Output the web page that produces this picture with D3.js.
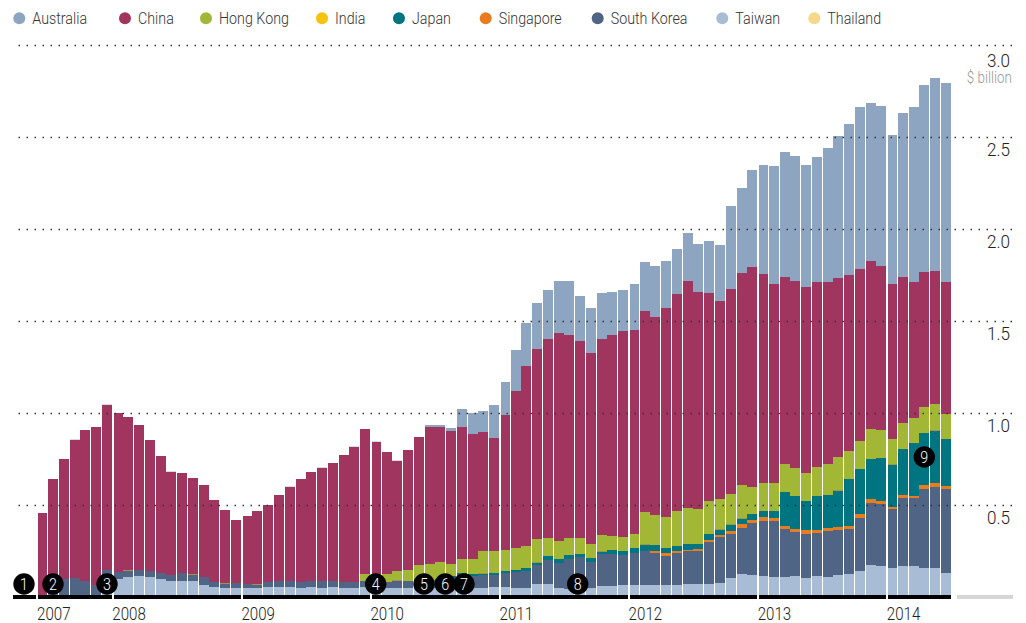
<!DOCTYPE html>
<html><head><meta charset="utf-8">
<script src="https://cdn.jsdelivr.net/npm/d3@7/dist/d3.min.js"></script>
<style>html,body{margin:0;padding:0;background:#fff}svg{display:block}
text{font-family:Roboto,"Liberation Sans",sans-serif;font-weight:300}</style>
</head><body><svg id="c" width="1026" height="623"></svg>
<script>
// Monthly values, $ billion, Jun 2007 – May 2014 (7 + 12*6 + 6 months)
const yearLabels = ["2007","2008","2009","2010","2011","2012","2013","2014"];
const yearStartIndex = [0,7,19,31,43,55,67,79];
const yTicks = [0.5,1.0,1.5,2.0,2.5,3.0];
const legendNames = ["Australia","China","Hong Kong","India","Japan","Singapore","South Korea","Taiwan","Thailand"];
const stackOrder = ["Thailand","Taiwan","South Korea","Singapore","Japan","India","Hong Kong","China","Australia"];
const annotationLabels = ["1","2","3","4","5","6","7","8","9"];

const thailand = [0,0,0,0,0,0,0,
 0,0,0,0,0,0,0,0,0,0,0,0,
 0,0,0,0,0,0,0,0,0,0,0,0,
 0,0,0,0,0,0,0,0,0,0,0,0,
 0,0,0,0,0,0,0,0,.008,.008,.008,0,
 0,0,0,0,0,0,0,0,0,0,0,0,
 0,0,0,0,0,0,0,0,0,0,0,0,
 0,0,0,0,0,0];
const taiwan = [0,0,0,0,0,0,.095,
 .101,.111,.117,.111,.101,.090,.090,.090,.068,.057,.052,.052,
 .052,.052,.057,.057,.057,.052,.057,.052,.057,.052,.052,.057,
 .057,.052,.052,.052,.052,.052,.052,.052,.052,.052,.052,.057,
 .057,.052,.052,.073,.073,.052,.046,.046,.044,.054,.054,.068,
 .068,.068,.068,.068,.068,.073,.073,.073,.079,.106,.128,.122,
 .117,.111,.111,.117,.106,.117,.111,.122,.128,.144,.177,.171,
 .160,.171,.171,.160,.160,.133];
const southKorea = [0,.041,.101,.106,.090,.068,.054,
 .038,.033,.033,.033,.033,.033,.043,.033,.043,.027,.022,.027,
 .022,.016,.027,.033,.033,.033,.033,.038,.033,.033,.033,.033,
 .033,.033,.038,.038,.038,.043,.049,.054,.071,.065,.071,.065,
 .076,.087,.092,.103,.130,.136,.163,.174,.141,.174,.174,.163,
 .174,.185,.174,.158,.174,.179,.179,.228,.250,.239,.250,.283,
 .299,.304,.261,.239,.239,.234,.250,.245,.245,.288,.337,.337,
 .321,.370,.370,.429,.440,.457];
const singapore = [0,0,0,0,0,0,0,
 0,0,0,0,0,0,0,0,0,0,0,0,
 0,0,0,0,0,0,0,0,0,0,0,0,
 0,0,0,0,0,0,0,0,0,0,0,0,
 0,0,0,0,0,0,0,0,0,0,0,0,
 0,0,.011,.016,.011,.005,.011,.011,.011,.016,.022,.016,
 .022,.016,.016,.016,.022,.016,.016,.016,.016,.022,.022,.016,
 .011,.016,.011,.022,.022,.016];
const japan = [0,0,0,0,0,0,0,
 0,0,0,0,0,0,0,0,0,0,0,0,
 0,0,0,0,0,0,0,0,0,0,0,0,
 0,0,0,0,0,0,0,.011,.011,.011,.005,.011,
 .011,.011,.016,.016,.022,.022,.022,.016,.022,.016,.022,.022,
 .027,.033,.033,.027,.027,.033,.027,.033,.027,.033,.027,.033,
 .033,.038,.185,.179,.158,.185,.179,.196,.255,.245,.217,.234,
 .228,.250,.288,.283,.288,.255];
const india = [0,0,0,0,0,0,0,
 0,.003,0,0,0,0,0,.003,0,0,.003,0,
 0,.003,0,0,0,0,0,0,0,0,0,0,
 0,0,.003,0,0,0,0,0,0,0,.003,0,
 0,0,0,.003,0,0,0,0,0,.003,0,0,
 0,.003,0,0,0,0,0,0,.003,.003,.003,0,
 0,0,0,0,0,0,0,.003,0,0,0,0,
 .003,0,0,0,.003,0];
const hongKong = [0,0,0,0,0,0,0,
 0,0,0,0,0,0,0,0,0,0,0,0,
 0,0,0,0,0,0,0,0,0,0,0,.038,
 .038,.043,.049,.060,.087,.087,.092,.065,.076,.082,.120,.120,
 .114,.120,.120,.125,.098,.098,.092,.087,.076,.087,.076,.076,
 .076,.174,.163,.168,.190,.196,.190,.179,.168,.168,.179,.147,
 .152,.152,.152,.152,.152,.158,.168,.179,.152,.152,.163,.152,
 .141,.141,.136,.141,.141,.136];
const china = [.459,.603,.652,.755,.821,.859,.902,
 .864,.832,.788,.712,.636,.560,.543,.522,.500,.446,.397,.342,
 .370,.397,.418,.467,.511,.560,.592,.614,.641,.690,.734,.788,
 .717,.663,.603,.652,.696,.745,.734,.723,.717,.679,.647,.614,
 .734,.853,.978,1.033,1.082,1.130,1.103,1.071,1.038,1.065,1.092,1.120,
 1.109,1.092,1.076,1.136,1.179,1.234,1.179,1.130,1.076,1.114,1.152,1.196,
 1.136,1.082,1.016,1.016,1.011,1.005,.989,.973,.957,.935,.913,.891,
 .842,.793,.739,.734,.723,.717];
const australia = [0,0,0,.003,0,0,.003,
 0,0,0,0,0,.003,0,0,0,0,0,0,
 0,0,0,0,.003,0,0,.003,0,0,.003,0,
 .003,0,.003,0,0,.011,.011,.016,.098,.114,.114,.179,
 .179,.223,.234,.250,.266,.283,.293,.245,.245,.250,.234,.223,
 .250,.266,.277,.255,.245,.261,.261,.283,.304,.451,.462,.527,
 .592,.641,.679,.679,.663,.679,.728,.772,.821,.880,.859,.870,
 .810,.891,.951,1.016,1.049,1.082];

const seriesByName = {"Thailand":thailand,"Taiwan":taiwan,"South Korea":southKorea,"Singapore":singapore,
 "Japan":japan,"India":india,"Hong Kong":hongKong,"China":china,"Australia":australia};
const colors = {"Australia":"#8EA5C1","China":"#A0365F","Hong Kong":"#A2B736","India":"#F5C20C","Japan":"#007582",
 "Singapore":"#E97C1F","South Korea":"#506486","Taiwan":"#A9BCD6","Thailand":"#F6D88A"};
// sub-pixel slivers are seen blended with what lies next to them
const sliverBlend = {"India":["#506486",.5],"Australia":["#ffffff",.6]};
const isSliver = h => h < .004;

const svg = d3.select("#c");
const n = china.length;
const sx = 0.84; // condensed type
const sxY = 0.95; // value labels are wider
const condensed = (sel,s=sx) => sel.attr("transform",`scale(${s},1)`);
const x = d3.scaleLinear().domain([0,84]).range([37.85,941.39]);
const px = i => Math.floor(x(i));
const y = d3.scaleLinear().domain([0,3]).range([597.5,45.5]);
const barW = 10;

const rows = d3.range(n).map(i => { const r={i}; stackOrder.forEach(k=>r[k]=seriesByName[k][i]); return r; });
const stacked = d3.stack().keys(stackOrder)(rows);

// bars
svg.append("g").selectAll("g").data(stacked).join("g")
 .each(function(s){
   const key = s.key;
   d3.select(this).selectAll("rect").data(s.filter(d=>d[1]>d[0])).join("rect")
    .attr("shape-rendering","crispEdges")
    .attr("fill",d=>{
      const b = sliverBlend[key];
      return b && isSliver(d[1]-d[0]) ? d3.interpolateRgb(colors[key],b[0])(b[1]) : colors[key];
    })
    .attr("x",d=>px(d.data.i)).attr("width",barW)
    .attr("y",d=>Math.round(y(d[1]))).attr("height",d=>Math.max(1,Math.round(y(d[0]))-Math.round(y(d[1]))));
 });

// baseline
svg.append("rect").attr("x",12.7).attr("width",951-12.7).attr("y",595).attr("height",4).attr("fill","#000").attr("shape-rendering","crispEdges");
svg.append("rect").attr("x",957).attr("width",56).attr("y",595).attr("height",4).attr("fill","#d6d6d6").attr("shape-rendering","crispEdges");

// white year separators
svg.append("g").selectAll("rect").data(yearStartIndex).join("rect")
 .attr("x",d=>px(d)-1).attr("width",2).attr("y",40).attr("height",562).attr("fill","#fff").attr("shape-rendering","crispEdges");

// y axis with dotted gridlines
const yAxis = d3.axisRight(y).tickValues(yTicks).tickFormat(d3.format(".1f")).tickSize(-995).offset(0);
const gy = svg.append("g").attr("transform","translate(1012,0)").call(yAxis);
gy.select(".domain").remove();
gy.selectAll("line").attr("stroke","#333").attr("stroke-width",1.3).attr("stroke-dasharray","1.5 6.5");
gy.selectAll("text").attr("x",-2/sxY).attr("dy",d=>d===3?"22":"18.5").attr("text-anchor","end")
 .attr("fill","#222").style("font-size","18px").style("font-family","Roboto").call(condensed,sxY);
svg.append("text").attr("x",1012/sx).attr("y",83).attr("text-anchor","end").attr("fill","#999").style("font-size","16px").text("$ billion").call(condensed);

// x axis
const xAxis = d3.axisBottom(x).tickValues(yearStartIndex).tickFormat((d,i)=>yearLabels[i]).tickSize(0).tickPadding(0).offset(0);
const gx = svg.append("g").attr("transform","translate(0,607)").call(xAxis);
gx.select(".domain").remove();
gx.selectAll("line").remove();
gx.selectAll("text").attr("text-anchor","start").attr("x",-1).attr("y",13).attr("dy",0)
 .attr("fill","#222").style("font-size","18px").style("font-family","Roboto").call(condensed);

// legend
const legendCircleX = [19.3,125,206,322,399,485.7,597.7,722.3,814.3];
const lg = svg.append("g").selectAll("g").data(legendNames).join("g")
 .attr("transform",(d,i)=>`translate(${legendCircleX[i]},18.3)`);
lg.append("circle").attr("r",6).attr("fill",d=>colors[d]);
lg.append("text").attr("x",13/sx).attr("y",5.7).attr("fill","#333").style("font-size","17px").text(d=>d).call(condensed);

// numbered markers
const annotationX = [24,53,107,375.7,424,445.3,464,577.7,924.3];
const annotationY = [584,584,584,584,584,584,584,584,457];
const mk = svg.append("g").selectAll("g").data(annotationLabels).join("g")
 .attr("transform",(d,i)=>`translate(${annotationX[i]},${annotationY[i]})`);
mk.append("circle").attr("r",10.7).attr("fill","#000");
mk.append("text").attr("text-anchor","middle").attr("y",6).attr("fill","#fff").style("font-size","17px").text(d=>d).call(condensed);
</script></body></html>
